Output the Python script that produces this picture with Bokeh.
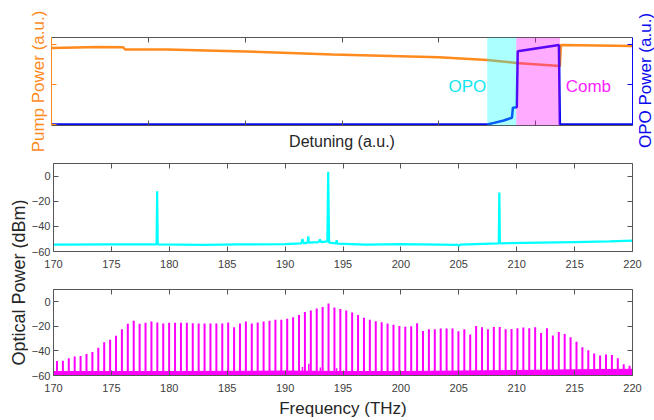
import math
import numpy as np
from bokeh.plotting import figure
from bokeh.models import Range1d, LinearAxis, FixedTicker, Label, BoxAnnotation, CustomLabelingPolicy
from bokeh.layouts import column, row
from bokeh.embed import file_html
from bokeh.resources import INLINE

# ---------------- data ----------------
# top panel (detuning sweep, arbitrary units)
detune_pump = [0.0, 0.5, 0.74, 0.76, 1.2, 2.0, 2.9, 4.0, 4.5, 4.8, 5.25, 5.26, 6.0]
pump_power = [0.955, 0.97, 0.965, 0.937, 0.937, 0.913, 0.875, 0.84, 0.806, 0.77, 0.73, 0.995, 0.982]
detune_opo = [0.0, 4.5, 4.57, 4.67, 4.755, 4.765, 4.805, 4.815, 5.24, 5.25, 6.0]
opo_power = [0.0, 0.0, 0.02, 0.05, 0.085, 0.21, 0.215, 0.915, 0.995, 0.0, 0.0]
opo_region = [4.50, 4.80]
comb_region = [4.80, 5.25]

# middle panel (OPO spectrum)
mid_freq = [170, 175, 178.9, 178.95, 179.0, 183, 186, 190, 191.4, 191.5, 191.6, 191.95, 192.0, 192.05,
            192.9, 193.0, 193.1, 193.65, 193.72, 193.8, 194.4, 194.45, 194.5, 197, 200, 204.9, 205, 205.1,
            208.45, 208.5, 208.55, 212, 215, 218, 220]
mid_dbm = [-54.5, -54.3, -54.4, -12, -54.4, -54.8, -54.4, -54.2, -53.5, -50, -53.5, -53, -48, -53,
           -52.5, -50.5, -52.5, -52, 3.5, -53, -53.5, -51, -53.8, -54.5, -54.2, -54.8, -55.5, -54.6,
           -53.5, -13, -53.5, -53, -52.5, -52, -51.3]

# bottom panel (comb spectrum)
comb_start = 170.30
comb_fsr = 0.5098
comb_dbm = [-48.1, -47.9, -46.0, -44.5, -44.2, -42.4, -40.8, -37.4, -32.9, -30.8, -27.6, -22.4,
            -17.9, -15.5, -17.9, -17.1, -16.0, -16.8, -17.6, -17.1, -17.1, -17.1, -17.1, -17.4,
            -17.6, -17.6, -17.6, -17.6, -17.6, -16.8, -20.8, -17.6, -16.0, -17.6, -16.8, -16.0,
            -15.5, -14.7, -14.7, -13.9, -12.6, -10.8, -8.4, -7.1, -5.5, -4.2, -1.3, -4.7, -5.8,
            -7.1, -8.7, -10.8, -12.9, -14.7, -15.8, -16.6, -17.6, -18.7, -19.7, -20.3, -20.0,
            -17.4, -23.7, -22.4, -22.4, -21.8, -21.8, -21.8, -23.9, -22.4, -26.6, -19.7, -20.8,
            -22.4, -20.5, -20.5, -22.4, -22.1, -21.6, -21.0, -21.6, -20.8, -25.5, -21.6, -27.4,
            -24.5, -26.3, -28.9, -32.6, -37.1, -39.5, -42.1, -43.7, -42.9, -43.4, -46.0, -50.8, -52.1]
floor_freq = [170, 180, 190, 195, 200, 205, 210, 215, 220]
floor_top = [-56.3, -56.3, -56.0, -56.3, -56.3, -56.0, -55.5, -55.0, -54.5]
spur_freq = [191.5, 192.05, 193.05, 194.45]
spur_dbm = [-53.0, -50.5, -53.5, -54.0]

freq_ticks = [170, 175, 180, 185, 190, 195, 200, 205, 210, 215, 220]
dbm_ticks = [-60, -40, -20, 0]

# ---------------- style ----------------
FONT = "Liberation Sans"
AX = "#555555"
TICKTXT = "#404040"
TXT = "#262626"
ORANGE = "#FF8A1E"
BLUE = "#0A0AF0"
CYAN = "#00FFFF"
MAGENTA = "#FF00FF"


def style_axis(ax, color=AX, labels=True, ticks=None, standoff=4):
    ax.axis_line_color = color
    ax.major_tick_line_color = color
    ax.major_tick_in = 5
    ax.major_tick_out = 0
    ax.minor_tick_line_color = None
    ax.major_label_text_font = FONT
    ax.major_label_text_color = TICKTXT
    if labels:
        ax.major_label_text_font_size = "11px"
        ax.major_label_standoff = standoff
    else:
        ax.major_label_text_font_size = "0px"
        ax.major_label_standoff = 0
        ax.major_label_policy = CustomLabelingPolicy(
            code="const arr = Array.from(indices); for (const i of arr) { indices.unset(i) }")
    ax.axis_label_text_font = FONT
    ax.axis_label_text_font_style = "normal"
    ax.axis_label_text_font_size = "17px"
    ax.axis_label_text_color = TXT
    if ticks is not None:
        ax.ticker = FixedTicker(ticks=ticks)


def base_fig(w, h, xr, yr, bl, br, bt, bb):
    p = figure(width=w, height=h, x_range=xr, y_range=yr, output_backend="svg",
               toolbar_location=None, min_border_left=bl, min_border_right=br,
               min_border_top=bt, min_border_bottom=bb)
    p.grid.visible = False
    p.outline_line_color = None
    p.background_fill_color = "white"
    p.border_fill_color = "white"
    return p


def label_fig(w, h, x, y, text, color, size):
    f = figure(width=w, height=h, x_range=Range1d(0, w), y_range=Range1d(0, h),
               output_backend="svg", toolbar_location=None, x_axis_type=None, y_axis_type=None,
               min_border=0)
    f.outline_line_color = None
    f.grid.visible = False
    f.add_layout(Label(x=x, y=y, text=text, angle=math.pi / 2, text_align="center",
                       text_baseline="middle", text_color=color, text_font=FONT,
                       text_font_size=size))
    return f


# ---------------- top panel ----------------
p1 = base_fig(634, 155, Range1d(0, 6), Range1d(-0.0125, 1.0875), 51, 2, 37, 30)
p1.extra_y_ranges = {"opo": Range1d(-0.0125, 1.0875)}
p1.line(detune_pump, pump_power, color=ORANGE, line_width=2.5)
p1.line(detune_opo, opo_power, color=BLUE, line_width=2.5, y_range_name="opo")
p1.add_layout(BoxAnnotation(left=opo_region[0], right=opo_region[1], fill_color=CYAN,
                            fill_alpha=0.33, line_color=None))
p1.add_layout(BoxAnnotation(left=comb_region[0], right=comb_region[1], fill_color=MAGENTA,
                            fill_alpha=0.33, line_color=None))
p1.add_layout(Label(x=opo_region[0] - 0.01, y=0.47, text="OPO", text_align="right",
                    text_baseline="middle", text_color="#10E6F0", text_font=FONT,
                    text_font_size="17px"))
p1.add_layout(Label(x=comb_region[1] + 0.06, y=0.47, text="Comb", text_align="left",
                    text_baseline="middle", text_color="#FF22FF", text_font=FONT,
                    text_font_size="17px"))

ax_b = p1.xaxis[0]
style_axis(ax_b, labels=False, ticks=[1, 2, 3, 4, 5])
ax_b.axis_label = "Detuning (a.u.)"
ax_b.axis_label_standoff = 7
ax_b.axis_label_text_font_size = "16px"

ax_l = p1.yaxis[0]
style_axis(ax_l, color=ORANGE, labels=False, ticks=[0, 0.5, 1])
ax_l.axis_label = "Pump Power (a.u.)"
ax_l.axis_label_text_color = ORANGE
ax_l.axis_label_standoff = 4

ax_r = LinearAxis(y_range_name="opo")
style_axis(ax_r, color=BLUE, labels=False, ticks=[0, 0.5, 1])
p1.add_layout(ax_r, "right")

ax_t = LinearAxis()
style_axis(ax_t, labels=False, ticks=[1, 2, 3, 4, 5])
p1.add_layout(ax_t, "above")

rlab = label_fig(20, 155, 11, 75, "OPO Power (a.u.)", BLUE, "17px")


# ---------------- middle & bottom panels ----------------
def spectrum_fig(h, bt, bb):
    p = base_fig(626, h, Range1d(170, 220), Range1d(-60, 10), 23, 22, bt, bb)
    xb = p.xaxis[0]
    style_axis(xb, ticks=freq_ticks, standoff=8)
    style_axis(p.yaxis[0], ticks=dbm_ticks, standoff=3)
    a_t = LinearAxis()
    style_axis(a_t, labels=False, ticks=freq_ticks)
    p.add_layout(a_t, "above")
    a_r = LinearAxis()
    style_axis(a_r, labels=False, ticks=dbm_ticks)
    p.add_layout(a_r, "right")
    return p, xb


p2, _ = spectrum_fig(116, 8, 20)
p2.line(mid_freq, mid_dbm, color=CYAN, line_width=2.2)

p3, p3_xaxis = spectrum_fig(149, 18, 43)
p3.varea(x=floor_freq, y1=[-60] * len(floor_freq), y2=floor_top, fill_color=MAGENTA)
comb_freq = comb_start + comb_fsr * np.arange(len(comb_dbm))
p3.segment(x0=comb_freq, y0=[-59] * len(comb_dbm), x1=comb_freq, y1=comb_dbm,
           line_color=MAGENTA, line_width=2)
p3.segment(x0=spur_freq, y0=[-59] * len(spur_freq), x1=spur_freq, y1=spur_dbm,
           line_color=MAGENTA, line_width=1.5)
p3_xaxis.axis_label = "Frequency (THz)"
p3_xaxis.axis_label_standoff = 4

# shared y label for the two spectra
lab = label_fig(28, 265, 18.5, 138, "Optical Power (dBm)", TXT, "18px")

layout = column(row(column(p1), rlab), row(lab, column(p2, p3)))
open("out.html", "w").write(file_html(layout, INLINE))
